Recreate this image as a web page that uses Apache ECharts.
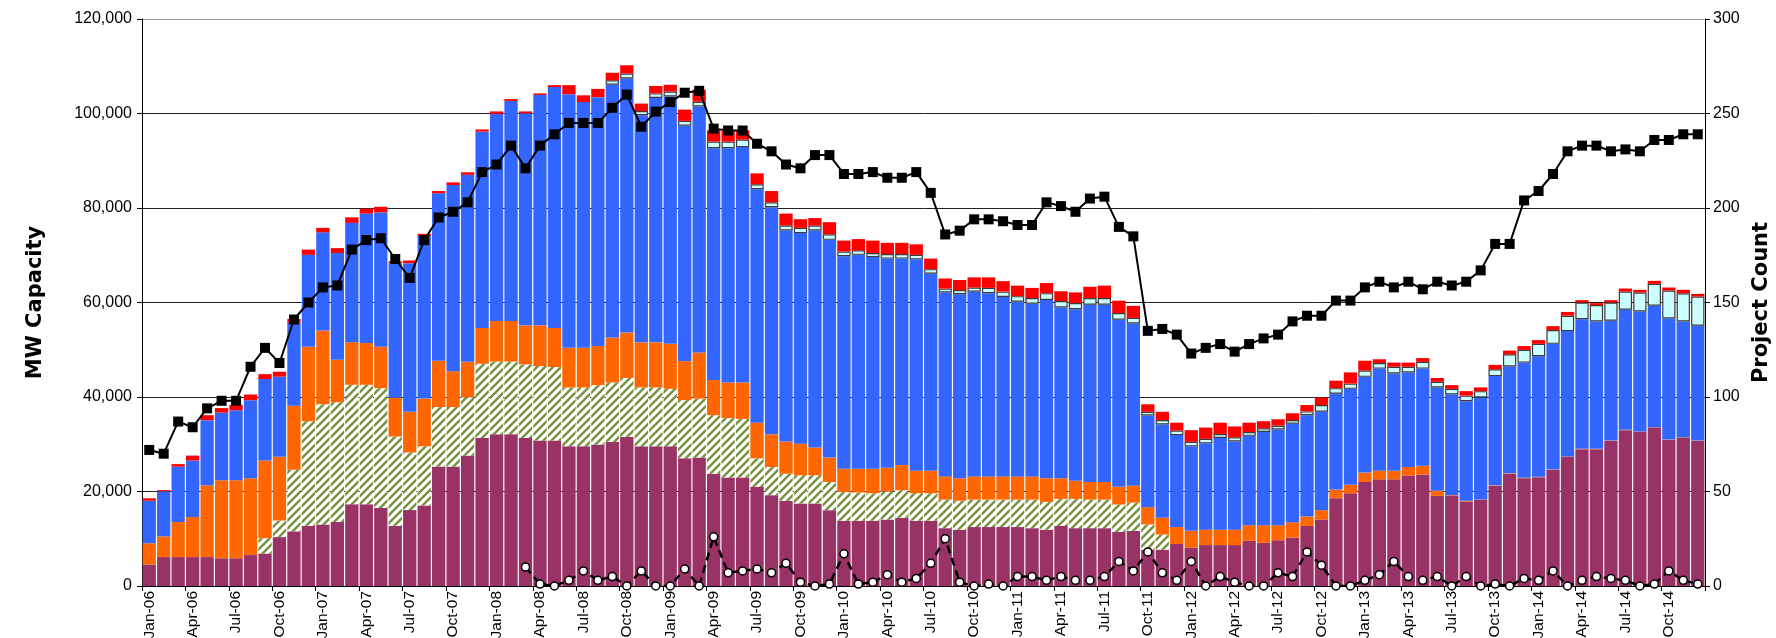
<!DOCTYPE html>
<html>
<head>
<meta charset="utf-8">
<script src="https://cdn.jsdelivr.net/npm/echarts@6/dist/echarts.min.js"></script>
<style>
html,body{margin:0;padding:0;background:#fff;}
#chart{width:1776px;height:638px;}
</style>
</head>
<body>
<div id="chart"></div>
<script>
const monthNames = ['Jan','Feb','Mar','Apr','May','Jun','Jul','Aug','Sep','Oct','Nov','Dec'];
const years = ['06','07','08','09','10','11','12','13','14'];
const categories = [];
years.forEach(y => monthNames.forEach(m => categories.push(m + '-' + y)));

const leftTicks = [0, 20000, 40000, 60000, 80000, 100000, 120000];
const rightTicks = [0, 50, 100, 150, 200, 250, 300];

// MW capacity segments (stacked, bottom to top)
const maroonMW = [4550,6120,6120,6120,6120,5870,5870,6540,6880,10350,11570,12750,
13030,13560,17290,17290,16500,12750,16060,17030,25280,25280,27600,31340,
32090,32090,31340,30780,30780,29580,29580,29960,30510,31550,29560,29560,
29560,27020,27180,23760,22960,22960,20980,19230,18040,17480,17480,16050,
13830,13830,13830,14060,14460,13830,13830,12240,11920,12480,12480,12480,
12480,12240,11920,12710,12240,12240,12240,11440,11680,7710,7710,8900,
8100,8660,8660,8660,9540,9140,9690,10250,12710,14060,18590,19630,
22010,22570,22570,23360,23600,19070,19070,17880,18200,21220,23760,22810,
23040,24550,27330,28950,28950,30710,32970,32620,33540,30920,31420,30710];

const hatchMW = [0,0,0,0,0,0,0,0,3210,3500,13030,22140,
25410,25340,25290,25290,25370,18890,12210,12550,12600,12600,12350,15700,
15410,15410,15560,15760,15570,12430,12430,12550,12560,12470,12470,12470,
12160,12310,12470,12390,12560,12400,6040,5960,5720,5960,5960,5960,
6040,5960,5800,5960,5800,5800,5800,6040,6120,5800,5800,5800,
5800,6040,5880,5720,6190,6040,6040,5800,5960,5320,3180,0,
0,0,0,0,0,0,0,0,0,0,0,0,
0,0,0,0,0,0,0,0,0,0,0,0,
0,0,0,0,0,0,0,0,0,0,0,0];

const orangeMW = [4500,4380,7430,8480,15180,16530,16530,16260,16470,13490,13540,15730,
15640,8980,9010,8870,8750,8220,8600,10090,9780,7580,7490,7570,
8600,8600,8270,8630,8260,8390,8390,8270,9530,9620,9540,9540,
9530,8270,9770,7470,7550,7710,7540,6910,6830,6680,5880,5170,
4920,5000,5160,5010,5330,4760,4760,4920,4770,4920,4920,4920,
4920,4920,5010,4380,3820,3730,3730,3740,3580,3660,3570,3580,
3580,3260,3260,3260,3330,3730,3180,3260,1990,1990,1830,1820,
1990,1820,1820,1830,1830,1110,160,160,100,80,80,90,
80,80,80,80,80,80,80,80,80,80,80,80];

const blueMW = [9000,9550,11700,11960,13800,14300,14800,16530,17240,16960,17560,19460,
20770,22600,25250,27370,28440,28400,31460,34390,35450,39400,39570,41540,
43780,46560,44870,48760,50990,53690,52020,52680,53480,53790,48070,51730,
52360,49820,52050,49030,49580,49820,49430,48070,44660,44570,45930,46080,
45010,45290,44820,44260,43700,44740,41720,38940,38930,39100,38780,37980,
36950,36550,37740,36150,36310,37510,37510,35360,34320,19380,19710,19460,
17880,18270,19390,18670,18910,19710,20260,20820,21450,20820,20260,20270,
20260,21620,20580,20020,20580,21850,21290,21050,21590,23120,22640,24380,
25510,26620,26540,27450,26960,25340,25430,25400,25680,25620,24490,24280];

const cyanMW = [null,null,null,null,null,null,null,null,null,null,null,null,
null,null,null,null,null,null,null,null,null,null,null,null,
null,null,null,null,null,null,null,null,950,1030,880,950,
1040,1030,1030,1430,1430,1590,1030,1040,1030,1110,1030,1190,
1000,960,870,950,950,950,950,790,880,870,1110,1120,
1190,1200,1430,1350,1350,1430,1430,1430,1200,800,950,960,
950,960,870,880,800,790,800,790,800,1430,1190,1110,
1350,1190,1430,1190,1430,1200,1200,1200,1350,1430,2550,2700,
2620,2940,3260,3530,3460,3880,3850,4020,4650,5920,5980,6200];

const redMW = [510,250,550,1040,1050,950,1150,1200,1030,1050,800,1120,
950,1030,1190,1040,1190,470,560,470,480,560,550,470,
560,400,400,320,400,1910,1430,1750,1590,1750,1580,1590,
1430,2380,2540,2380,2220,1980,2310,2380,2540,1830,1590,2550,
2300,2380,2620,2390,2390,2230,2230,2150,2140,2150,2230,2220,
2230,2140,2140,2070,2230,2380,2620,2620,2540,1590,1750,1660,
2470,2380,2380,2300,1980,1510,1350,1430,1350,1590,1590,2380,
2070,790,880,880,790,790,790,950,790,950,790,800,
800,800,800,490,420,490,630,560,630,630,710,560];

// Project counts (right axis)
const projectCount = [72,70,87,84,94,98,98,116,126,118,141,150,
158,159,178,183,184,173,163,183,195,198,203,219,
223,233,221,233,239,245,245,245,253,260,243,251,
256,261,262,242,241,241,234,230,223,221,228,228,
218,218,219,216,216,219,208,186,188,194,194,193,
191,191,203,201,198,205,206,190,185,135,136,133,
123,126,128,124,128,131,133,140,143,143,151,151,
158,161,158,161,157,161,159,161,167,181,181,204,
209,218,230,233,233,230,231,230,236,236,239,239];

const newCount = [null,null,null,null,null,null,null,null,null,null,null,null,
null,null,null,null,null,null,null,null,null,null,null,null,
null,null,10,1,0,3,8,3,5,0,8,0,
0,9,0,26,7,8,9,7,12,2,0,1,
17,1,2,6,2,4,12,25,2,0,1,0,
5,5,3,5,3,3,5,13,8,18,7,3,
13,0,5,2,0,0,7,5,18,11,0,0,
3,6,13,5,3,5,0,5,0,1,0,4,
3,8,0,3,5,4,3,0,1,8,3,1];

function hatchPattern() {
  const s = 8;
  const c = document.createElement('canvas');
  c.width = s; c.height = s;
  const ctx = c.getContext('2d');
  ctx.fillStyle = '#ffffff';
  ctx.fillRect(0, 0, s, s);
  ctx.strokeStyle = '#75923C';
  ctx.lineWidth = 2.4;
  [-s, 0, s].forEach(x0 => {
    ctx.beginPath();
    ctx.moveTo(x0 - 1, s + 1);
    ctx.lineTo(x0 + s + 1, -1);
    ctx.stroke();
  });
  return c;
}

const chart = echarts.init(document.getElementById('chart'), null, {renderer: 'canvas'});
const font = 'Liberation Sans, Arial, sans-serif';
const nameFont = 'DejaVu Sans, Liberation Sans, sans-serif';
const barBase = {type: 'bar', stack: 'mw', barCategoryGap: '8%', yAxisIndex: 0};

chart.setOption({
  animation: false,
  backgroundColor: '#ffffff',
  grid: {left: 142, right: 71, top: 19, bottom: 52, containLabel: false, outerBoundsMode: 'none'},
  xAxis: {
    type: 'category',
    data: categories,
    boundaryGap: true,
    axisLine: {lineStyle: {color: '#000', width: 1}},
    axisTick: {show: true, interval: 2, length: 5, lineStyle: {color: '#000'}},
    axisLabel: {interval: 2, rotate: 90, fontSize: 15.5, color: '#000', fontFamily: font, margin: 5, hideOverlap: false},
    splitLine: {show: false}
  },
  yAxis: [
    {
      type: 'value', min: leftTicks[0], max: leftTicks[leftTicks.length - 1], interval: leftTicks[1] - leftTicks[0],
      name: 'MW Capacity', nameLocation: 'middle', nameRotate: 90, nameGap: 96,
      nameTextStyle: {fontSize: 21, fontWeight: 'bold', color: '#000', fontFamily: nameFont},
      axisLine: {show: true, lineStyle: {color: '#000', width: 1}},
      axisTick: {show: true, length: 5, lineStyle: {color: '#000'}},
      axisLabel: {fontSize: 16, color: '#000', fontFamily: font, margin: 10,
        formatter: v => v.toLocaleString('en-US')},
      splitLine: {show: true, lineStyle: {color: ['#000','#222','#222','#222','#222','#222','#999'], width: 1}}
    },
    {
      type: 'value', min: rightTicks[0], max: rightTicks[rightTicks.length - 1], interval: rightTicks[1] - rightTicks[0],
      position: 'right',
      name: 'Project Count', nameLocation: 'middle', nameRotate: 90, nameGap: 44,
      nameTextStyle: {fontSize: 21, fontWeight: 'bold', color: '#000', fontFamily: nameFont},
      axisLine: {show: true, lineStyle: {color: '#000', width: 1}},
      axisTick: {show: true, length: 5, lineStyle: {color: '#000'}},
      axisLabel: {fontSize: 16, color: '#000', fontFamily: font, margin: 8},
      splitLine: {show: false}
    }
  ],
  series: [
    Object.assign({}, barBase, {name: 'Maroon', data: maroonMW, itemStyle: {color: '#993366'}}),
    Object.assign({}, barBase, {name: 'Hatched', data: hatchMW, itemStyle: {color: {image: hatchPattern(), repeat: 'repeat'}}}),
    Object.assign({}, barBase, {name: 'Orange', data: orangeMW, itemStyle: {color: '#FF6600'}}),
    Object.assign({}, barBase, {name: 'Blue', data: blueMW, itemStyle: {color: '#3366FF'}}),
    Object.assign({}, barBase, {name: 'Cyan', data: cyanMW, itemStyle: {color: '#CCFFFF', borderColor: '#3a3a3a', borderWidth: 1.2}}),
    Object.assign({}, barBase, {name: 'Red', data: redMW, itemStyle: {color: '#FF0000'}}),
    {
      name: 'Project Count', type: 'line', yAxisIndex: 1, data: projectCount, z: 5,
      symbol: 'rect', symbolSize: 10, showAllSymbol: true,
      lineStyle: {color: '#000', width: 2},
      itemStyle: {color: '#000'}
    },
    {
      name: 'New', type: 'line', yAxisIndex: 1, data: newCount, z: 6,
      symbol: 'circle', symbolSize: 8, showAllSymbol: true, connectNulls: false,
      lineStyle: {color: '#000', width: 2.5, type: [8, 5]},
      itemStyle: {color: '#fff', borderColor: '#000', borderWidth: 1.5}
    }
  ]
});
</script>
</body>
</html>
